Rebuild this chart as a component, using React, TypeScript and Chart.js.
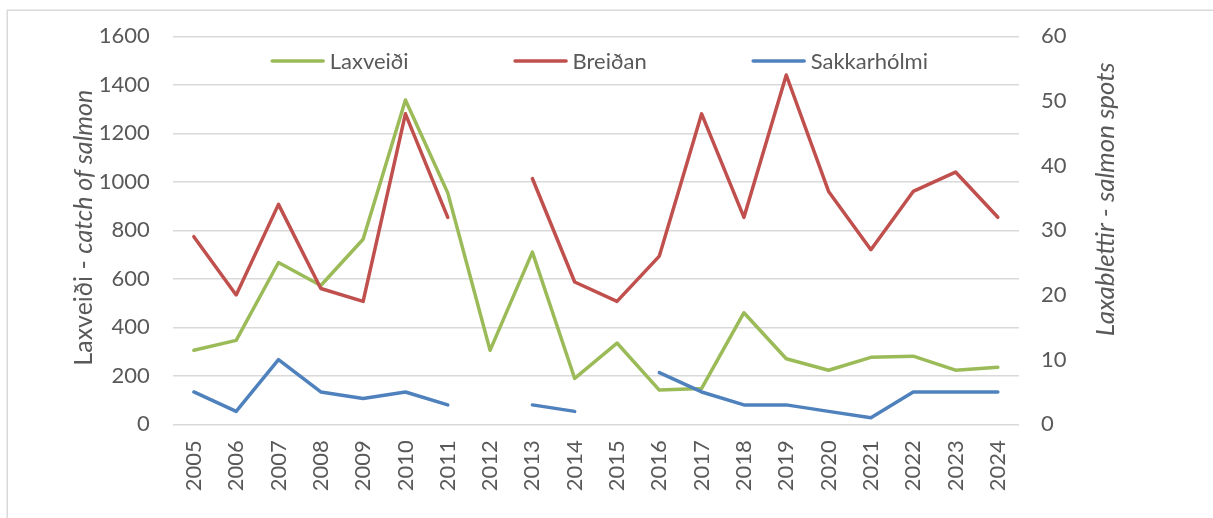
import React, { useEffect, useRef } from "react";
import { Chart, registerables } from "chart.js";

Chart.register(...registerables);

// ---- data ----
const years = [
  "2005", "2006", "2007", "2008", "2009", "2010", "2011", "2012", "2013", "2014",
  "2015", "2016", "2017", "2018", "2019", "2020", "2021", "2022", "2023", "2024",
];
const laxveidi = [305, 346, 667, 572, 763, 1337, 954, 305, 710, 189, 335, 141, 148, 460, 270, 223, 276, 281, 223, 235];
const breidan = [29, 20, 34, 21, 19, 48, 32, null, 38, 22, 19, 26, 48, 32, 54, 36, 27, 36, 39, 32];
const sakkarholmi = [5, 2, 10, 5, 4, 5, 3, null, 3, 2, null, 8, 5, 3, 3, 2, 1, 5, 5, 5];

const seriesLabels = ["Laxveiði", "Breiðan", "Sakkarhólmi"];
const seriesColors = ["#9BBB59", "#C0504D", "#4F81BD"];

const leftAxisMin = 0;
const leftAxisMax = 1600;
const leftAxisStep = 200;
const rightAxisMin = 0;
const rightAxisMax = 60;
const rightAxisStep = 10;

const leftTitleUpright = "Laxveiði - ";
const leftTitleItalic = "catch of salmon";
const rightTitle = "Laxablettir - salmon spots";

const FONT = "Lato";
const FONT_SIZE = 22;
const TEXT_COLOR = "#595959";
const GRID_COLOR = "#d9d9d9";

const decorPlugin = {
  id: "decor",
  beforeDraw(chart: any) {
    const ctx = chart.ctx as CanvasRenderingContext2D;
    ctx.save();
    ctx.fillStyle = "#ffffff";
    ctx.fillRect(0, 0, chart.width, chart.height);
    ctx.strokeStyle = GRID_COLOR;
    ctx.lineWidth = 1.5;
    ctx.strokeRect(7.25, 10.25, chart.width + 40, chart.height + 40);
    ctx.restore();
  },
  afterDraw(chart: any) {
    const ctx = chart.ctx as CanvasRenderingContext2D;
    const area = chart.chartArea;
    ctx.save();
    // legend (overlaid inside the plot area)
    ctx.font = `${FONT_SIZE}px ${FONT}`;
    ctx.fillStyle = TEXT_COLOR;
    ctx.textBaseline = "middle";
    ctx.textAlign = "left";
    const lineW = 54;
    const gapText = 5;
    const gapItem = 105;
    const items = chart.data.datasets.map((ds: any) => ({
      label: ds.label as string,
      color: ds.borderColor as string,
      w: lineW + gapText + ctx.measureText(ds.label).width,
    }));
    const total = items.reduce((s: number, it: any) => s + it.w, 0) + gapItem * (items.length - 1);
    let x = (area.left + area.right) / 2 + 3.5 - total / 2;
    const y = area.top + 24.7;
    for (const it of items) {
      ctx.strokeStyle = it.color;
      ctx.lineWidth = 3.5;
      ctx.lineCap = "round";
      ctx.beginPath();
      ctx.moveTo(x + 1.5, y);
      ctx.lineTo(x + lineW - 1.5, y);
      ctx.stroke();
      ctx.fillText(it.label, x + lineW + gapText, y + 1);
      x += it.w + gapItem;
    }

    // left axis title (mixed upright / italic), sized to its span in the original
    ctx.textBaseline = "alphabetic";
    ctx.font = `${FONT_SIZE}px ${FONT}`;
    let w1 = ctx.measureText(leftTitleUpright).width;
    ctx.font = `italic ${FONT_SIZE}px ${FONT}`;
    let w2 = ctx.measureText(leftTitleItalic).width;
    const leftSize = (FONT_SIZE * 276) / (w1 + w2);
    w1 *= leftSize / FONT_SIZE;
    w2 *= leftSize / FONT_SIZE;
    const cyL = (area.top + area.bottom) / 2 - 2.6;
    ctx.save();
    ctx.translate(area.left - 81, cyL);
    ctx.rotate(-Math.PI / 2);
    ctx.font = `${leftSize}px ${FONT}`;
    ctx.fillText(leftTitleUpright, -(w1 + w2) / 2, 0);
    ctx.font = `italic ${leftSize}px ${FONT}`;
    ctx.fillText(leftTitleItalic, -(w1 + w2) / 2 + w1, 0);
    ctx.restore();

    // right axis title
    ctx.save();
    ctx.font = `italic ${FONT_SIZE}px ${FONT}`;
    const wr = ctx.measureText(rightTitle).width;
    const rightSize = (FONT_SIZE * 274) / wr;
    ctx.font = `italic ${rightSize}px ${FONT}`;
    ctx.translate(area.right + 95, area.top + 163);
    ctx.rotate(-Math.PI / 2);
    ctx.textAlign = "center";
    ctx.fillText(rightTitle, 0, 0);
    ctx.restore();

    ctx.restore();
  },
};

export default function App() {
  const canvasRef = useRef<HTMLCanvasElement | null>(null);

  useEffect(() => {
    const canvas = canvasRef.current;
    if (!canvas) return;
    const values = [laxveidi, breidan, sakkarholmi];
    const axes = ["yLeft", "yRight", "yRight"];
    const orders = [3, 2, 1];
    const chart = new Chart(canvas, {
      type: "line",
      data: {
        labels: years,
        datasets: seriesLabels.map((label, i) => ({
          label,
          data: values[i],
          borderColor: seriesColors[i],
          backgroundColor: seriesColors[i],
          borderWidth: 3.5,
          pointRadius: 0,
          pointHoverRadius: 0,
          tension: 0,
          borderCapStyle: "round",
          borderJoinStyle: "round",
          spanGaps: false,
          yAxisID: axes[i],
          order: orders[i],
        })) as any,
      },
      options: {
        responsive: false,
        animation: false,
        devicePixelRatio: 1,
        layout: { padding: { top: 34.3, left: 0, right: 0, bottom: 0 } },
        plugins: {
          legend: { display: false },
          tooltip: { enabled: false },
        },
        scales: {
          x: {
            type: "category",
            offset: true,
            grid: { display: false, drawTicks: false },
            border: { display: false },
            ticks: {
              autoSkip: false,
              maxRotation: 90,
              minRotation: 90,
              padding: 16,
              color: TEXT_COLOR,
              font: { family: FONT, size: FONT_SIZE },
            },
            afterFit: (scale: any) => {
              scale.height = 93.7;
            },
          },
          yLeft: {
            type: "linear",
            position: "left",
            min: leftAxisMin,
            max: leftAxisMax,
            grid: { color: GRID_COLOR, lineWidth: 1.4, drawTicks: false },
            border: { display: false },
            ticks: {
              stepSize: leftAxisStep,
              padding: 23,
              color: TEXT_COLOR,
              font: { family: FONT, size: FONT_SIZE },
              callback: (v: any) => String(v),
            },
            afterFit: (scale: any) => {
              scale.width = 172.7;
            },
          },
          yRight: {
            type: "linear",
            position: "right",
            min: rightAxisMin,
            max: rightAxisMax,
            grid: { display: false, drawTicks: false },
            border: { display: false },
            ticks: {
              stepSize: rightAxisStep,
              padding: 22,
              color: TEXT_COLOR,
              font: { family: FONT, size: FONT_SIZE },
              callback: (v: any) => String(v),
            },
            afterFit: (scale: any) => {
              scale.width = 194;
            },
          },
        },
      },
      plugins: [decorPlugin],
    });
    return () => chart.destroy();
  }, []);

  return (
    <div style={{ position: "absolute", left: 0, top: 0, width: 1213, height: 518, background: "#fff" }}>
      <canvas ref={canvasRef} width={1213} height={518} style={{ display: "block", width: 1213, height: 518 }} />
    </div>
  );
}
